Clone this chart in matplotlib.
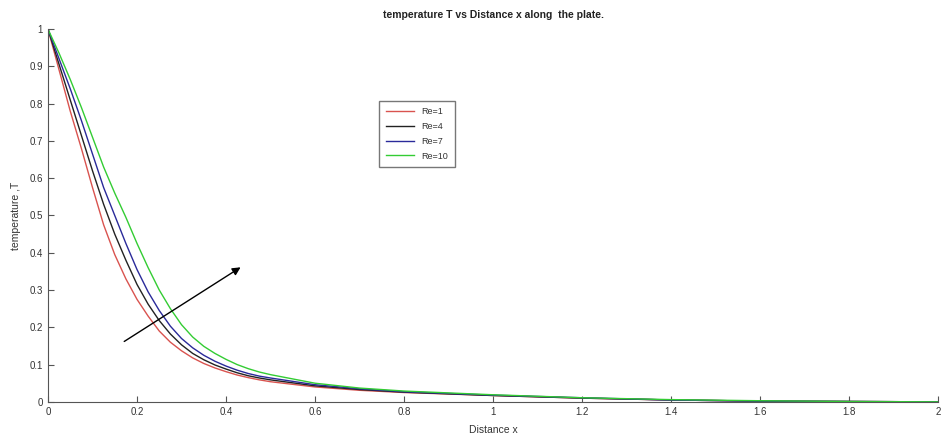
import numpy as np
import matplotlib
matplotlib.use('Agg')
import matplotlib.pyplot as plt

# valeurs
x = [0.0, 0.025, 0.05, 0.075, 0.1, 0.125, 0.15, 0.175, 0.2, 0.225, 0.25,
     0.275, 0.3, 0.325, 0.35, 0.375, 0.4, 0.425, 0.45, 0.475, 0.5,
     0.6, 0.7, 0.8, 1.0, 1.2, 1.4, 1.6, 1.8, 2.0]
T_re1 = [1.0, 0.89, 0.78, 0.68, 0.575, 0.475, 0.395, 0.33, 0.275, 0.23, 0.19,
         0.16, 0.137, 0.118, 0.103, 0.091, 0.081, 0.072, 0.065, 0.059, 0.054,
         0.040, 0.031, 0.025, 0.017, 0.010, 0.005, 0.002, 0.001, 0.0]
T_re4 = [1.0, 0.905, 0.81, 0.715, 0.62, 0.53, 0.45, 0.38, 0.315, 0.262, 0.218,
         0.182, 0.153, 0.130, 0.113, 0.099, 0.088, 0.078, 0.070, 0.064, 0.059,
         0.043, 0.033, 0.026, 0.017, 0.010, 0.005, 0.002, 0.001, 0.0]
T_re7 = [1.0, 0.92, 0.84, 0.755, 0.665, 0.575, 0.50, 0.425, 0.355, 0.295, 0.245,
         0.203, 0.170, 0.145, 0.125, 0.109, 0.096, 0.085, 0.076, 0.069, 0.064,
         0.046, 0.035, 0.027, 0.018, 0.011, 0.005, 0.002, 0.001, 0.0]
T_re10 = [1.0, 0.935, 0.865, 0.79, 0.71, 0.63, 0.56, 0.495, 0.425, 0.36, 0.30,
          0.25, 0.207, 0.174, 0.149, 0.130, 0.114, 0.100, 0.089, 0.080, 0.073,
          0.050, 0.037, 0.029, 0.019, 0.011, 0.006, 0.003, 0.001, 0.0]
labels = ['Re=1', 'Re=4', 'Re=7', 'Re=10']
colors = ['#d9534f', '#222222', '#2a2a9a', '#33cc33']

plt.rcParams['font.family'] = ['Liberation Sans', 'DejaVu Sans']

fig = plt.figure(figsize=(9.41, 4.48), dpi=100)
ax = fig.add_axes([0.051, 0.103, 0.946, 0.832])

for T, lab, c in zip([T_re1, T_re4, T_re7, T_re10], labels, colors):
    ax.plot(x, T, color=c, lw=1.0, label=lab)

ax.annotate('', xy=(0.438, 0.365), xytext=(0.166, 0.158),
            arrowprops=dict(arrowstyle='-|>', color='black', lw=1.0, mutation_scale=12))

ax.set_xlim(0, 2)
ax.set_ylim(0, 1)
ax.set_xticks(np.arange(0, 2.01, 0.2))
ax.set_xticklabels(['0', '0.2', '0.4', '0.6', '0.8', '1', '1.2', '1.4', '1.6', '1.8', '2'])
ax.set_yticks(np.arange(0, 1.01, 0.1))
ax.set_yticklabels(['0', '0.1', '0.2', '0.3', '0.4', '0.5', '0.6', '0.7', '0.8', '0.9', '1'])
ax.tick_params(direction='in', labelsize=7, colors='#555555', labelcolor='#333333', length=4)
ax.spines['top'].set_visible(False)
ax.spines['right'].set_visible(False)
for s in ['left', 'bottom']:
    ax.spines[s].set_color('#555555')

ax.set_xlabel('Distance x', fontsize=7.5, color='#333333', labelpad=6)
ax.set_ylabel('temperature ,T', fontsize=7.5, color='#333333', labelpad=6)
ax.set_title('temperature T vs Distance x along  the plate.', fontsize=7.5,
             fontweight='bold', color='#222222', pad=8)

leg = ax.legend(loc='upper left', bbox_to_anchor=(0.367, 0.82), fontsize=6.5,
                frameon=True, fancybox=False, edgecolor='#555555',
                handlelength=3.2, labelspacing=0.65, borderpad=0.7)
for t in leg.get_texts():
    t.set_color('#333333')

plt.savefig('out.png', dpi=100)
